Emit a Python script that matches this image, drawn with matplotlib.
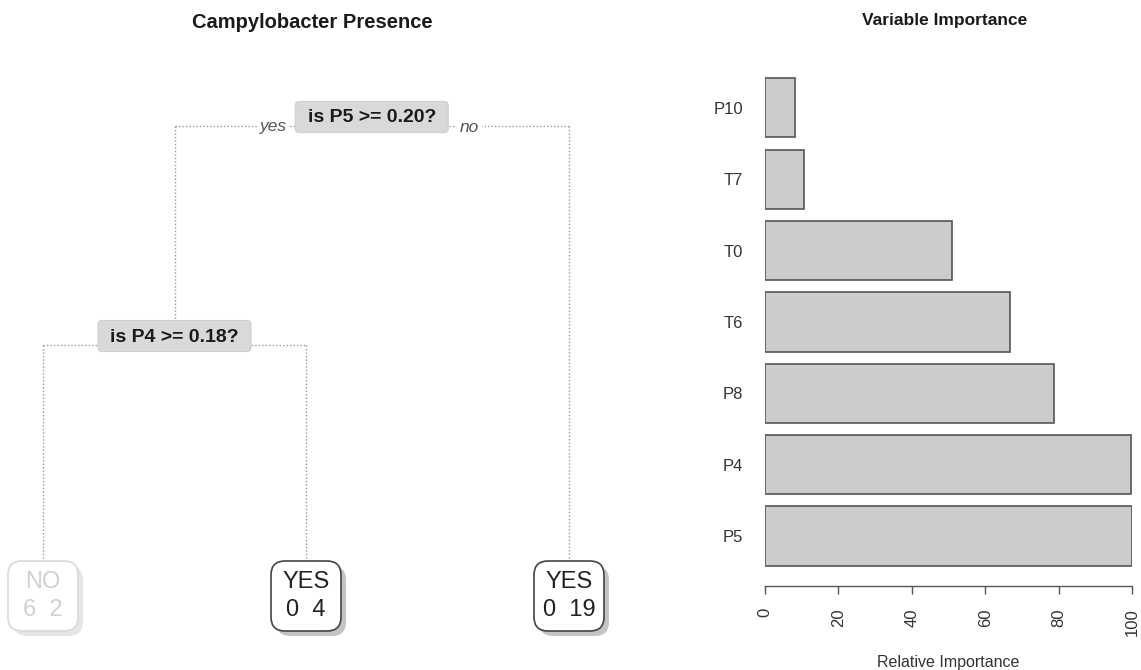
import matplotlib
matplotlib.use("Agg")
import matplotlib.pyplot as plt
from matplotlib.patches import FancyBboxPatch

plt.rcParams['font.family'] = ['Liberation Sans', 'DejaVu Sans']

# ---- classification tree ----
split_labels = ["is P5 >= 0.20?", "is P4 >= 0.18?"]
leaf_classes = ["NO", "YES", "YES"]
leaf_counts = [(6, 2), (0, 4), (0, 19)]
leaf_faded = [True, False, False]
# tree topology: (node, yes-child, no-child); ints >= 0 are splits, "L#" are leaves
tree_edges = [(0, 1, "L2"), (1, "L0", "L1")]

# ---- variable importance ----
var_names = ["P5", "P4", "P8", "T6", "T0", "T7", "P10"]
importance = [100, 99.7, 78.7, 66.8, 51.0, 10.6, 8.2]
imp_ticks = [0, 20, 40, 60, 80, 100]

W, H = 1141, 670
fig = plt.figure(figsize=(W / 100, H / 100), dpi=100)

# tree panel in pixel units
ax = fig.add_axes([0, 0, 640 / W, 1])
ax.set_xlim(0, 640)
ax.set_ylim(H, 0)
ax.axis("off")

leaf_x0, leaf_step = 43, 263
level_y = {0: 117, 1: 336}
leaf_y = 596

pos = {}
for i in range(len(leaf_classes)):
    pos["L%d" % i] = (leaf_x0 + i * leaf_step, leaf_y)
depth = {0: 0, 1: 1}
for node, yes_c, no_c in reversed(tree_edges):
    xs = (pos[yes_c][0] + pos[no_c][0]) / 2
    pos[node] = (xs, level_y[depth[node]])

split_w, split_h = 153, 31
leaf_w, leaf_h = 70, 70
edge_kw = dict(color="#9a9a9a", lw=1.0, ls=(0, (1, 1.5)), zorder=1)


def top_of(n):
    x, y = pos[n]
    return y - (leaf_h / 2 if isinstance(n, str) else split_h / 2)


for node, yes_c, no_c in tree_edges:
    x, y = pos[node]
    ly = y + 9
    xl, xr = pos[yes_c][0], pos[no_c][0]
    ax.plot([xl, xr], [ly, ly], **edge_kw)
    ax.plot([xl, xl], [ly, top_of(yes_c)], **edge_kw)
    ax.plot([xr, xr], [ly, top_of(no_c)], **edge_kw)
    if node == 0:
        ax.text(x - split_w / 2 - 22, ly + 1, "yes", ha="center", va="center",
                style="italic", fontsize=12.5, color="#555555", zorder=3,
                bbox=dict(fc="white", ec="none", pad=2))
        ax.text(x + split_w / 2 + 21, ly + 1, "no", ha="center", va="center",
                style="italic", fontsize=12.5, color="#555555", zorder=3,
                bbox=dict(fc="white", ec="none", pad=2))

for k, label in enumerate(split_labels):
    x, y = pos[k]
    ax.add_patch(FancyBboxPatch((x - split_w / 2, y - split_h / 2), split_w, split_h,
                                boxstyle="round,pad=0,rounding_size=4",
                                fc="#d9d9d9", ec="#cfcfcf", lw=0.8, zorder=4))
    ax.text(x, y + 1, label, ha="center", va="center", fontsize=14,
            fontweight="bold", color="#1a1a1a", zorder=5)

for i, (cls, cnt, faded) in enumerate(zip(leaf_classes, leaf_counts, leaf_faded)):
    x, y = pos["L%d" % i]
    ec = "#d8d8d8" if faded else "#444444"
    tc = "#d0d0d0" if faded else "#222222"
    sc = "#e6e6e6" if faded else "#c4c4c4"
    ax.add_patch(FancyBboxPatch((x - leaf_w / 2 + 5, y - leaf_h / 2 + 5), leaf_w, leaf_h,
                                boxstyle="round,pad=0,rounding_size=14",
                                fc=sc, ec="none", zorder=3))
    ax.add_patch(FancyBboxPatch((x - leaf_w / 2, y - leaf_h / 2), leaf_w, leaf_h,
                                boxstyle="round,pad=0,rounding_size=14",
                                fc="white", ec=ec, lw=1.2, zorder=4))
    ax.text(x, y - 14, cls, ha="center", va="center", fontsize=17, color=tc, zorder=5)
    ax.text(x, y + 14, "%d  %d" % cnt, ha="center", va="center", fontsize=17,
            color=tc, zorder=5)

ax.text(312, 22, "Campylobacter Presence", ha="center", va="center",
        fontsize=14.5, fontweight="bold", color="#1a1a1a")

# importance panel
x0, x1 = 765, 1132
ybot, ytop = 586, 65
bx = fig.add_axes([x0 / W, (H - ybot) / H, (x1 - x0) / W, (ybot - ytop) / H])
ypos = list(range(len(var_names)))
bx.barh(ypos, importance, height=0.83, color="#cccccc", edgecolor="#555555",
        linewidth=1.2)
bx.set_xlim(0, 100)
bx.set_ylim(-0.7, 6.6)
bx.set_yticks(ypos)
bx.set_yticklabels(var_names, fontsize=12, color="#333333")
bx.tick_params(axis="y", length=0, pad=16)
bx.set_xticks(imp_ticks)
bx.set_xticklabels([str(t) for t in imp_ticks], rotation=90, fontsize=12,
                   color="#333333")
bx.tick_params(axis="x", length=6, width=1, color="#555555", pad=10)
for s in ["top", "right", "left"]:
    bx.spines[s].set_visible(False)
bx.spines["bottom"].set_color("#555555")
bx.spines["bottom"].set_linewidth(1.0)
bx.set_xlabel("Relative Importance", fontsize=11.5, color="#333333", labelpad=14)
fig.text(945 / W, 1 - 20 / H, "Variable Importance", ha="center", va="center",
         fontsize=12.5, fontweight="bold", color="#1a1a1a")

fig.savefig("out.png", dpi=100, facecolor="white")
